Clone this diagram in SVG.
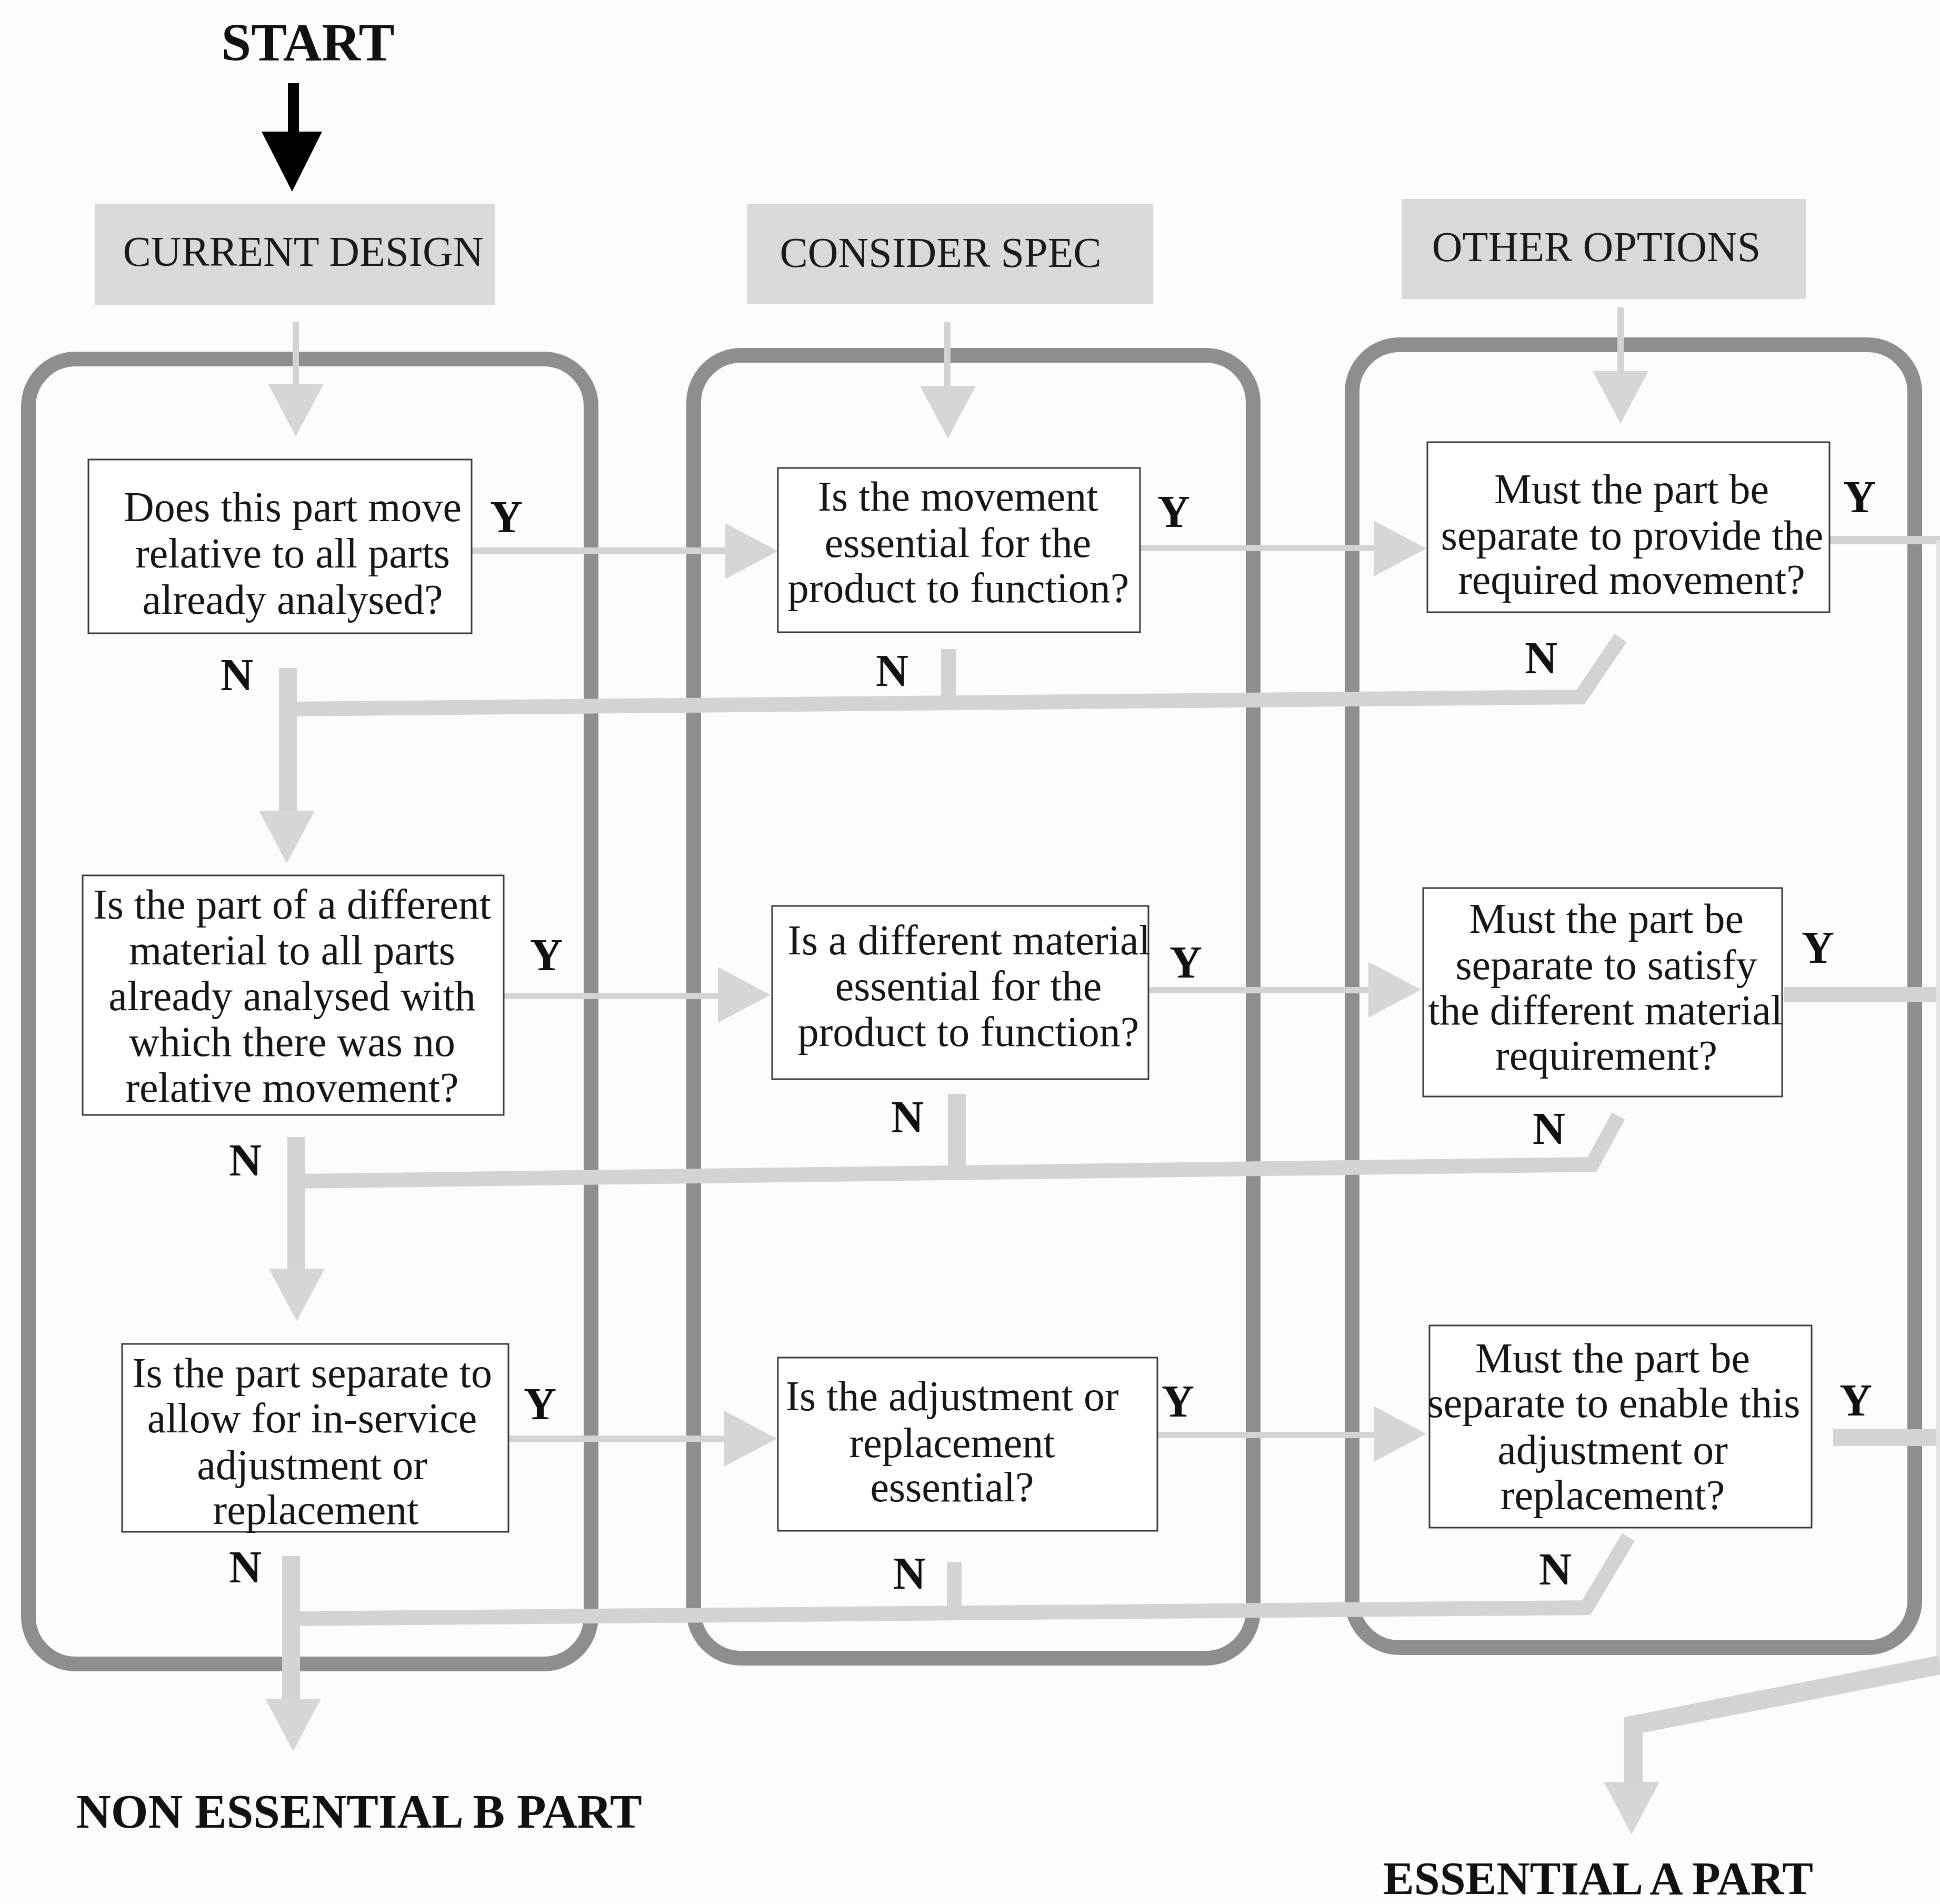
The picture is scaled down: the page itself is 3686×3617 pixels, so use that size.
<svg xmlns="http://www.w3.org/2000/svg" xmlns:xlink="http://www.w3.org/1999/xlink" width="3686" height="3617" viewBox="0 0 3686 3617">
  <style>
    .hdr { fill: #d9d9d9; }
    .hdrtxt { font-family: "Liberation Serif", "Times New Roman", serif; font-size: 80px; fill: #1a1a1a; text-anchor: middle; }
    .lane { fill: none; stroke: #8e8e8e; stroke-width: 28; }
    .box { fill: #ffffff; stroke: #3a3a3a; stroke-width: 3; }
    .q { font-family: "Liberation Serif", "Times New Roman", serif; font-size: 80px; fill: #161616; text-anchor: middle; }
    .yn { font-family: "Liberation Serif", "Times New Roman", serif; font-size: 86px; font-weight: bold; fill: #111111; }
    .big { font-family: "Liberation Serif", "Times New Roman", serif; font-weight: bold; fill: #111111; }
    .thin { fill: none; stroke: #d3d3d3; stroke-width: 12; }
    .flow { fill: none; stroke: #d3d3d3; stroke-width: 28; stroke-linejoin: miter; }
    .drop { fill: none; stroke: #d3d3d3; stroke-width: 34; }
    .head { fill: #d6d6d6; }
  </style>
  <defs>
    <!-- arrowhead pointing along +x, base at x=0 -->
    <path id="head" d="M0,-53 L100,0 L0,53 Z"/>
  </defs>

  <rect x="0" y="0" width="3686" height="3617" fill="#fcfcfc"/>

  <!-- start marker -->
  <g id="start">
    <text class="big" x="585" y="115" font-size="102" text-anchor="middle">START</text>
    <rect x="547" y="158" width="21" height="96" fill="#000000"/>
    <polygon points="497,250 612,250 555,364" fill="#000000"/>
  </g>

  <!-- column headers -->
  <g id="hdr-current">
    <rect class="hdr" x="180" y="387" width="760" height="193"/>
    <text class="hdrtxt" x="576" y="505">CURRENT DESIGN</text>
  </g>
  <g id="hdr-spec">
    <rect class="hdr" x="1420" y="388" width="771" height="189"/>
    <text class="hdrtxt" x="1787" y="507">CONSIDER SPEC</text>
  </g>
  <g id="hdr-other">
    <rect class="hdr" x="2663" y="378" width="769" height="190"/>
    <text class="hdrtxt" x="3033" y="496">OTHER OPTIONS</text>
  </g>

  <!-- swimlanes -->
  <g id="lanes">
    <rect class="lane" x="54" y="682" width="1069" height="2479" rx="90"/>
    <rect class="lane" x="1318" y="675" width="1063" height="2475" rx="90"/>
    <rect class="lane" x="2569" y="655" width="1069" height="2475" rx="90"/>
  </g>

  <!-- connectors -->
  <g id="connectors">
    <!-- header entries -->
    <path class="thin" d="M562,611 L562,731"/>
    <use xlink:href="#head" class="head" transform="translate(562,729) rotate(90)"/>
    <path class="thin" d="M1800,612 L1800,735"/>
    <use xlink:href="#head" class="head" transform="translate(1801,733) rotate(90)"/>
    <path class="thin" d="M3079,584 L3079,707"/>
    <use xlink:href="#head" class="head" transform="translate(3079,705) rotate(90)"/>

    <!-- row 1 yes path -->
    <path class="thin" d="M896,1046 L1384,1046"/>
    <use xlink:href="#head" class="head" transform="translate(1378,1047)"/>
    <path class="thin" d="M2166,1041 L2612,1041"/>
    <use xlink:href="#head" class="head" transform="translate(2610,1042)"/>
    <path class="thin" style="stroke-width:16" d="M3476,1026 L3686,1026"/>

    <!-- row 2 yes path -->
    <path class="thin" d="M957,1892 L1368,1892"/>
    <use xlink:href="#head" class="head" transform="translate(1364,1890)"/>
    <path class="thin" d="M2182,1881 L2602,1881"/>
    <use xlink:href="#head" class="head" transform="translate(2600,1880)"/>
    <path class="flow" d="M3389,1889 L3686,1889"/>

    <!-- row 3 yes path -->
    <path class="thin" d="M966,2733 L1378,2733"/>
    <use xlink:href="#head" class="head" transform="translate(1376,2733)"/>
    <path class="thin" d="M2199,2726 L2612,2726"/>
    <use xlink:href="#head" class="head" transform="translate(2610,2724)"/>
    <path class="flow" style="stroke-width:32" d="M3483,2731 L3686,2731"/>

    <!-- collector on the right and exit to essential part -->
    <path class="thin" style="stroke-width:8; stroke:#e2e2e2" d="M3683,1026 L3683,3163"/>
    <path class="drop" style="stroke-width:36" d="M3686,3163 L3103,3277 L3103,3388"/>
    <use xlink:href="#head" class="head" transform="translate(3100,3385) rotate(90)"/>

    <!-- row 1 no path -->
    <path class="flow" d="M3079,1212 L3003,1324 L547,1347"/>
    <path class="flow" d="M1802,1233 L1802,1336"/>
    <path class="drop" d="M547,1269 L547,1542"/>
    <use xlink:href="#head" class="head" transform="translate(545,1540) rotate(90)"/>

    <!-- row 2 no path -->
    <path class="flow" d="M3075,2120 L3025,2212 L563,2244"/>
    <path class="flow" style="stroke-width:34" d="M1818,2078 L1818,2228"/>
    <path class="drop" d="M563,2160 L563,2413"/>
    <use xlink:href="#head" class="head" transform="translate(564,2410) rotate(90)"/>

    <!-- row 3 no path -->
    <path class="flow" d="M3094,2920 L3014,3054 L553,3075"/>
    <path class="flow" d="M1813,2967 L1813,3066"/>
    <path class="drop" d="M553,2956 L553,3230"/>
    <use xlink:href="#head" class="head" transform="translate(557,3227) rotate(90)"/>
  </g>

  <!-- current design column -->
  <g id="q-move">
    <rect class="box" x="168" y="873" width="728" height="330"/>
    <text class="q" x="556" y="990">Does this part move</text>
    <text class="q" x="556" y="1078">relative to all parts</text>
    <text class="q" x="556" y="1166">already analysed?</text>
  </g>
  <g id="q-material">
    <rect class="box" x="157" y="1663" width="800" height="455"/>
    <text class="q" x="555" y="1745">Is the part of a different</text>
    <text class="q" x="555" y="1832">material to all parts</text>
    <text class="q" x="555" y="1919">already analysed with</text>
    <text class="q" x="555" y="2006">which there was no</text>
    <text class="q" x="555" y="2093">relative movement?</text>
  </g>
  <g id="q-service">
    <rect class="box" x="232" y="2553" width="734" height="357"/>
    <text class="q" x="593" y="2635">Is the part separate to</text>
    <text class="q" x="593" y="2721">allow for in-service</text>
    <text class="q" x="593" y="2810">adjustment or</text>
    <text class="q" x="600" y="2895">replacement</text>
  </g>

  <!-- consider spec column -->
  <g id="q-move-essential">
    <rect class="box" x="1478" y="889" width="688" height="312"/>
    <text class="q" x="1820" y="970">Is the movement</text>
    <text class="q" x="1820" y="1058">essential for the</text>
    <text class="q" x="1821" y="1144">product to function?</text>
  </g>
  <g id="q-material-essential">
    <rect class="box" x="1467" y="1721" width="715" height="329"/>
    <text class="q" x="1841" y="1813">Is a different material</text>
    <text class="q" x="1840" y="1900">essential for the</text>
    <text class="q" x="1840" y="1987">product to function?</text>
  </g>
  <g id="q-adjust-essential">
    <rect class="box" x="1478" y="2579" width="721" height="329"/>
    <text class="q" x="1809" y="2679">Is the adjustment or</text>
    <text class="q" x="1809" y="2768">replacement</text>
    <text class="q" x="1809" y="2852">essential?</text>
  </g>

  <!-- other options column -->
  <g id="q-sep-move">
    <rect class="box" x="2712" y="840" width="764" height="323"/>
    <text class="q" x="3100" y="956">Must the part be</text>
    <text class="q" x="3101" y="1044">separate to provide the</text>
    <text class="q" x="3100" y="1128">required movement?</text>
  </g>
  <g id="q-sep-material">
    <rect class="box" x="2704" y="1687" width="682" height="396"/>
    <text class="q" x="3052" y="1772">Must the part be</text>
    <text class="q" x="3052" y="1860">separate to satisfy</text>
    <text class="q" x="3050" y="1946">the different material</text>
    <text class="q" x="3052" y="2032">requirement?</text>
  </g>
  <g id="q-sep-adjust">
    <rect class="box" x="2716" y="2518" width="726" height="384"/>
    <text class="q" x="3064" y="2607">Must the part be</text>
    <text class="q" x="3066" y="2692">separate to enable this</text>
    <text class="q" x="3064" y="2781">adjustment or</text>
    <text class="q" x="3064" y="2867">replacement?</text>
  </g>

  <!-- yes / no labels -->
  <g id="labels">
    <text class="yn" x="931" y="1011">Y</text>
    <text class="yn" x="2199" y="1001">Y</text>
    <text class="yn" x="3502" y="973">Y</text>
    <text class="yn" x="1007" y="1843">Y</text>
    <text class="yn" x="2222" y="1857">Y</text>
    <text class="yn" x="3423" y="1829">Y</text>
    <text class="yn" x="995" y="2696">Y</text>
    <text class="yn" x="2207" y="2691">Y</text>
    <text class="yn" x="3495" y="2689">Y</text>

    <text class="yn" x="419" y="1311">N</text>
    <text class="yn" x="1664" y="1303">N</text>
    <text class="yn" x="2897" y="1279">N</text>
    <text class="yn" x="435" y="2233">N</text>
    <text class="yn" x="1693" y="2151">N</text>
    <text class="yn" x="2912" y="2173">N</text>
    <text class="yn" x="435" y="3006">N</text>
    <text class="yn" x="1697" y="3018">N</text>
    <text class="yn" x="2924" y="3010">N</text>
  </g>

  <!-- outcomes -->
  <g id="out-nonessential">
    <text class="big" x="145" y="3472" font-size="91">NON ESSENTIAL B PART</text>
  </g>
  <g id="out-essential">
    <text class="big" x="2628" y="3598" font-size="88">ESSENTIAL A PART</text>
  </g>
</svg>
